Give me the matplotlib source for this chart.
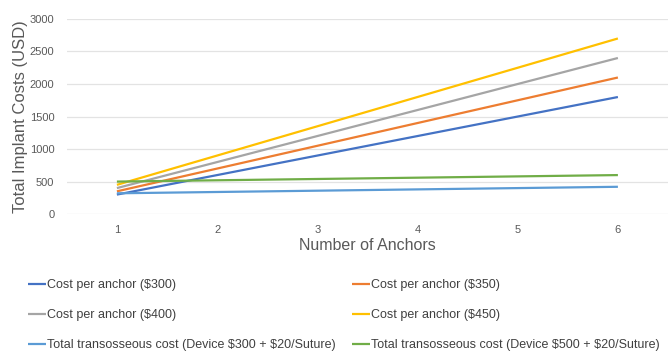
import numpy as np
import matplotlib.pyplot as plt

plt.rcParams['font.family'] = ['Liberation Sans', 'DejaVu Sans']
plt.rcParams['text.parse_math'] = False

# Number of anchors and total implant cost per scenario
anchors = [1, 2, 3, 4, 5, 6]
cost_300 = [300, 600, 900, 1200, 1500, 1800]
cost_350 = [350, 700, 1050, 1400, 1750, 2100]
cost_400 = [400, 800, 1200, 1600, 2000, 2400]
cost_450 = [450, 900, 1350, 1800, 2250, 2700]
trans_300 = [320, 340, 360, 380, 400, 420]
trans_500 = [500, 520, 540, 560, 580, 600]

labels = [
    "Cost per anchor ($300)",
    "Cost per anchor ($350)",
    "Cost per anchor ($400)",
    "Cost per anchor ($450)",
    "Total transosseous cost (Device $300 + $20/Suture)",
    "Total transosseous cost (Device $500 + $20/Suture)",
]
colors = ["#4472C4", "#ED7D31", "#A5A5A5", "#FFC000", "#5B9BD5", "#70AD47"]
series = [cost_300, cost_350, cost_400, cost_450, trans_300, trans_500]

text_color = "#595959"

fig = plt.figure(figsize=(6.68, 3.51), dpi=100)
ax = fig.add_axes([0.1, 0.39, 0.9, 0.556])

lines = []
for vals, col, lab in zip(series, colors, labels):
    ln, = ax.plot(anchors, vals, color=col, lw=1.6, label=lab, solid_capstyle='butt')
    lines.append(ln)

ax.set_xlim(0.5, 6.5)
ax.set_ylim(0, 3000)
ax.set_xticks(anchors)
ax.set_yticks(np.arange(0, 3001, 500))
ax.grid(axis='y', color='#E3E3E3', lw=0.9)
ax.set_axisbelow(True)
for s in ax.spines.values():
    s.set_visible(False)
ax.tick_params(length=0, labelsize=8, labelcolor=text_color)
ax.tick_params(axis='x', pad=8)
ax.tick_params(axis='y', pad=9)

ax.set_xlabel("Number of Anchors", fontsize=11.5, color=text_color, labelpad=2)
ax.set_ylabel("Total Implant Costs (USD)", fontsize=12, color=text_color, labelpad=1)

# two-column legend below the axes, filled row by row
order = [0, 2, 4, 1, 3, 5]
fig.legend([lines[i] for i in order], [labels[i] for i in order],
           loc='upper left', bbox_to_anchor=(0.042, 0.205), ncol=2,
           frameon=False, fontsize=9, handlelength=1.4, handletextpad=0.1,
           columnspacing=1.35, labelspacing=1.45, labelcolor='#404040',
           borderaxespad=0, borderpad=0)

fig.savefig("out.png", dpi=100)
